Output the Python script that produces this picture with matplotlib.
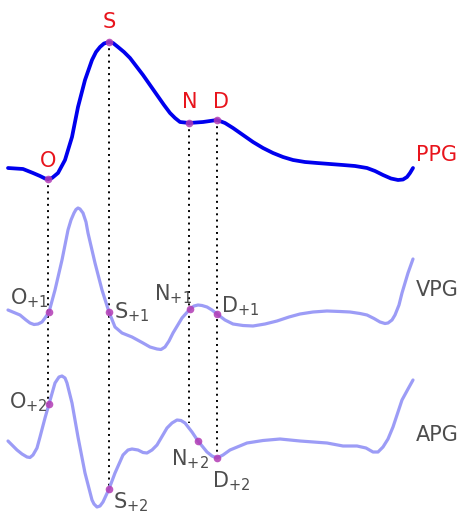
import matplotlib.pyplot as plt

# curves (pixel coordinates, y grows downwards)
ppg_x = [8, 23, 33, 40, 45, 48, 52, 58, 65, 72, 78, 85, 92, 96, 100, 104, 109, 113, 118, 124,
         130, 143, 157, 164, 170, 175, 180, 189, 196, 203, 210, 217, 225, 233, 243, 253, 263,
         273, 283, 293, 305, 317, 330, 343, 355, 367, 375, 383, 391, 398, 403, 407, 410, 413]
ppg_y = [168, 169, 173, 176, 178.5, 179, 178, 173, 160, 137, 107, 80, 60, 52, 47, 43.5, 42,
         43, 47, 52, 58, 75, 95, 105, 113, 118, 122, 123, 122.5, 122, 121, 120, 123, 128, 135,
         142, 148, 153, 157, 160, 162, 163, 164, 165, 166, 168, 171, 175, 178.5, 180, 179.5,
         177, 173, 168]

vpg_x = [8, 20, 26, 30, 34, 38, 42, 45, 49, 55, 62, 68, 71, 74, 76, 78, 80, 83, 86, 88, 95,
         102, 109, 115, 122, 132, 143, 150, 157, 161, 165, 169, 173, 182, 190, 194, 198, 202,
         207, 212, 217, 225, 233, 243, 253, 265, 277, 289, 300, 313, 327, 340, 350, 360, 367,
         374, 380, 385, 388, 392, 395, 399, 402, 408, 413]
vpg_y = [310, 315, 320, 323, 324.5, 324, 322, 318, 312, 290, 260, 230, 220, 213, 209.5, 208,
         209, 213, 222, 233, 263, 290, 312, 327, 333, 337, 343, 347, 349, 349.5, 347, 341, 333,
         318, 309, 306, 305, 305.5, 307, 310, 314, 320, 324, 325.5, 326, 324, 321, 317, 314,
         312, 311, 311.5, 312, 313.5, 315, 318.5, 322, 323.5, 323, 320, 315, 305, 293, 273, 259]

apg_x = [8, 17, 22, 27, 30, 33, 37, 40, 45, 49, 55, 59, 62, 65, 67, 72, 78, 85, 92, 94, 97,
         100, 103, 109, 115, 123, 128, 132, 138, 143, 147, 152, 157, 167, 172, 177, 181, 185,
         192, 198, 207, 212, 217, 223, 230, 247, 263, 280, 300, 327, 343, 357, 366, 373, 378,
         383, 388, 393, 402, 408, 413]
apg_y = [441, 450, 454, 457, 457.5, 455, 448, 437, 418, 404, 383, 377, 376, 378, 383, 403, 437,
         473, 500, 504, 507, 506, 502, 489, 473, 455, 450, 449, 450, 452.5, 453, 450, 445, 428,
         423, 420, 420.5, 423, 432, 441, 452, 456, 458, 455, 450, 443, 440.5, 439, 441, 443,
         446, 446, 448, 452, 452, 447, 439, 427, 400, 389, 380]

# fiducial points
ppg_pts_x = [48, 109, 189, 217]
ppg_pts_y = [179, 42, 123, 120]
ppg_names = ['O', 'S', 'N', 'D']
vpg_pts_x = [49, 109, 190, 217]
vpg_pts_y = [312, 312, 309, 314]
vpg_names = [r'O$_{+1}$', r'S$_{+1}$', r'N$_{+1}$', r'D$_{+1}$']
apg_pts_x = [49, 109, 198, 217]
apg_pts_y = [404, 489, 441, 458]
apg_names = [r'O$_{+2}$', r'S$_{+2}$', r'N$_{+2}$', r'D$_{+2}$']
guide_end = [404, 489, 423, 458]

red = '#e8141c'
grey = '#4d4d4d'
dot = '#b23cb4'

fig = plt.figure(figsize=(4.61, 5.11), dpi=100)
ax = fig.add_axes([0, 0, 1, 1])
ax.set_xlim(0, 461)
ax.set_ylim(511, 0)
ax.axis('off')

# dotted guides
for x, y0, y1 in zip(ppg_pts_x, ppg_pts_y, guide_end):
    ax.plot([x, x], [y0, y1], color='black', lw=1.4, ls=(0, (1, 2.2)), zorder=1)

kw = dict(solid_capstyle='round', solid_joinstyle='round', zorder=2)
ax.plot(ppg_x, ppg_y, color='#0000ee', lw=2.7, **kw)
ax.plot(vpg_x, vpg_y, color='#9c9cf6', lw=2.3, **kw)
ax.plot(apg_x, apg_y, color='#9c9cf6', lw=2.3, **kw)

for xs, ys in [(ppg_pts_x, ppg_pts_y), (vpg_pts_x, vpg_pts_y), (apg_pts_x, apg_pts_y)]:
    ax.plot(xs, ys, 'o', color=dot, ms=5.5, alpha=0.85, zorder=3, mec='none')

fs = 15
# PPG labels
ppg_lab = [(48, 161), (109, 22), (190, 102), (221, 102)]
for (x, y), s in zip(ppg_lab, ppg_names):
    ax.text(x, y, s, color=red, fontsize=fs, ha='center', va='center')
ax.text(416, 155, 'PPG', color=red, fontsize=fs, ha='left', va='center')

# VPG labels (left x, baseline y)
vpg_lab = [(10, 304), (114, 318), (154, 300), (221, 312)]
for (x, y), s in zip(vpg_lab, vpg_names):
    ax.text(x, y, s, color=grey, fontsize=fs, ha='left', va='baseline')
ax.text(416, 290, 'VPG', color=grey, fontsize=fs, ha='left', va='center')

apg_lab = [(9, 408), (113, 508), (171, 465), (212, 487)]
for (x, y), s in zip(apg_lab, apg_names):
    ax.text(x, y, s, color=grey, fontsize=fs, ha='left', va='baseline')
ax.text(416, 435, 'APG', color=grey, fontsize=fs, ha='left', va='center')

fig.savefig('out.png', dpi=100)
